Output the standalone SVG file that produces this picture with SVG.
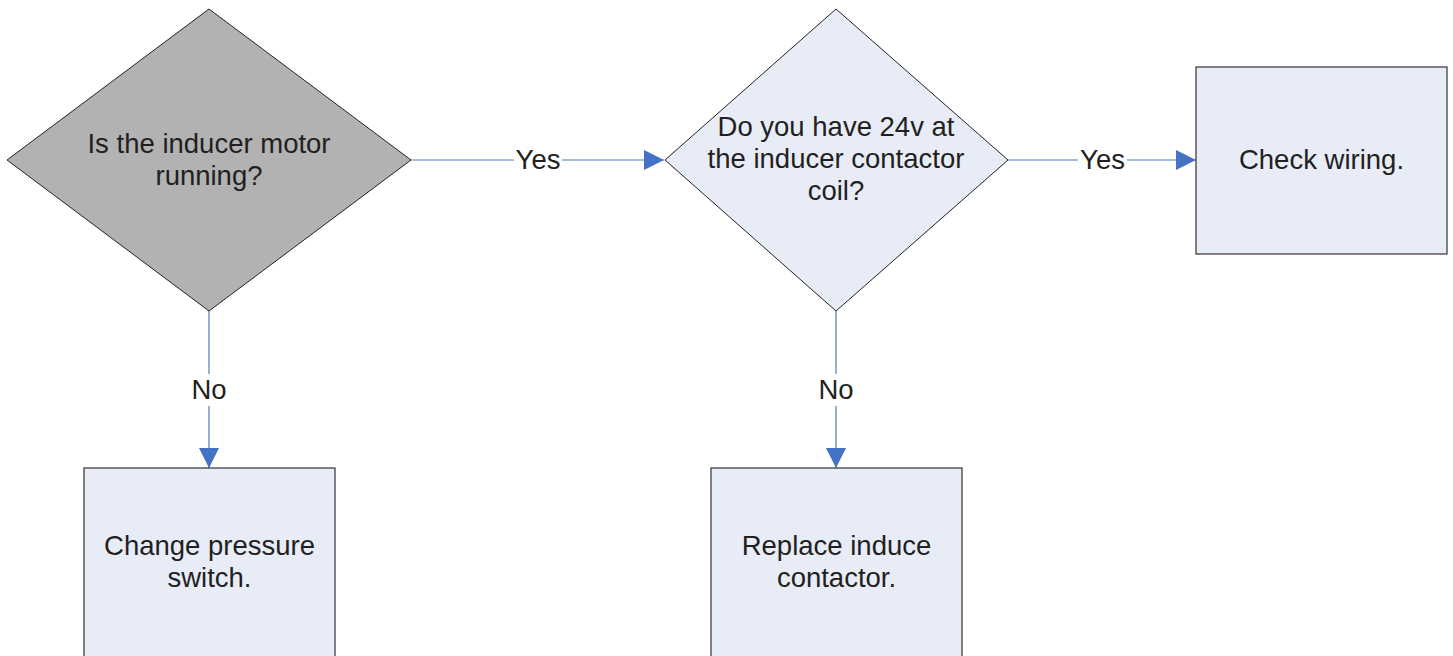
<svg xmlns="http://www.w3.org/2000/svg" width="1453" height="656" viewBox="0 0 1453 656">
<style>
text{font-family:"Liberation Sans",Arial,sans-serif;font-size:27.5px;fill:#231f20;text-anchor:middle}
.box{fill:#e8ecf7;stroke:#333;stroke-width:1.2}
.dec{stroke:#222;stroke-width:1}
.conn{stroke:#4a7ebb;stroke-width:1.2;fill:none}
.lbl{fill:#fff}
</style>
<defs>
<marker id="ah" viewBox="0 0 20 20" refX="20" refY="10" markerWidth="20" markerHeight="20" markerUnits="userSpaceOnUse" orient="auto">
<path d="M0,0 L20,10 L0,20 Z" fill="#4472c4"/>
</marker>
</defs>
<g id="connectors">
<path class="conn" d="M411,160 H664" marker-end="url(#ah)"/>
<path class="conn" d="M1008,160 H1196" marker-end="url(#ah)"/>
<path class="conn" d="M209,311 V468" marker-end="url(#ah)"/>
<path class="conn" d="M836,311 V468" marker-end="url(#ah)"/>
<rect class="lbl" x="514" y="146" width="48" height="30"/>
<text x="538" y="169">Yes</text>
<rect class="lbl" x="1078" y="146" width="49" height="30"/>
<text x="1102.5" y="169">Yes</text>
<rect class="lbl" x="191" y="374" width="36" height="32"/>
<text x="209" y="399">No</text>
<rect class="lbl" x="818" y="374" width="36" height="32"/>
<text x="836" y="399">No</text>
</g>
<g id="d1">
<polygon class="dec" fill="#b2b2b2" points="209,9 411,160 209,311 7,160"/>
<text x="209" y="153">Is the inducer motor</text>
<text x="209" y="185">running?</text>
</g>
<g id="d2">
<polygon class="dec" fill="#e8ecf7" points="836,9 1008,160 836,311 665,160"/>
<text x="836" y="136">Do you have 24v at</text>
<text x="836" y="168">the inducer contactor</text>
<text x="836" y="200">coil?</text>
</g>
<g id="b1">
<rect class="box" x="1196" y="67" width="251" height="187"/>
<text x="1321.5" y="169">Check wiring.</text>
</g>
<g id="b2">
<rect class="box" x="84" y="468" width="251" height="200"/>
<text x="209.5" y="555">Change pressure</text>
<text x="209.5" y="587">switch.</text>
</g>
<g id="b3">
<rect class="box" x="711" y="468" width="251" height="200"/>
<text x="836.5" y="555">Replace induce</text>
<text x="836.5" y="587">contactor.</text>
</g>
</svg>
